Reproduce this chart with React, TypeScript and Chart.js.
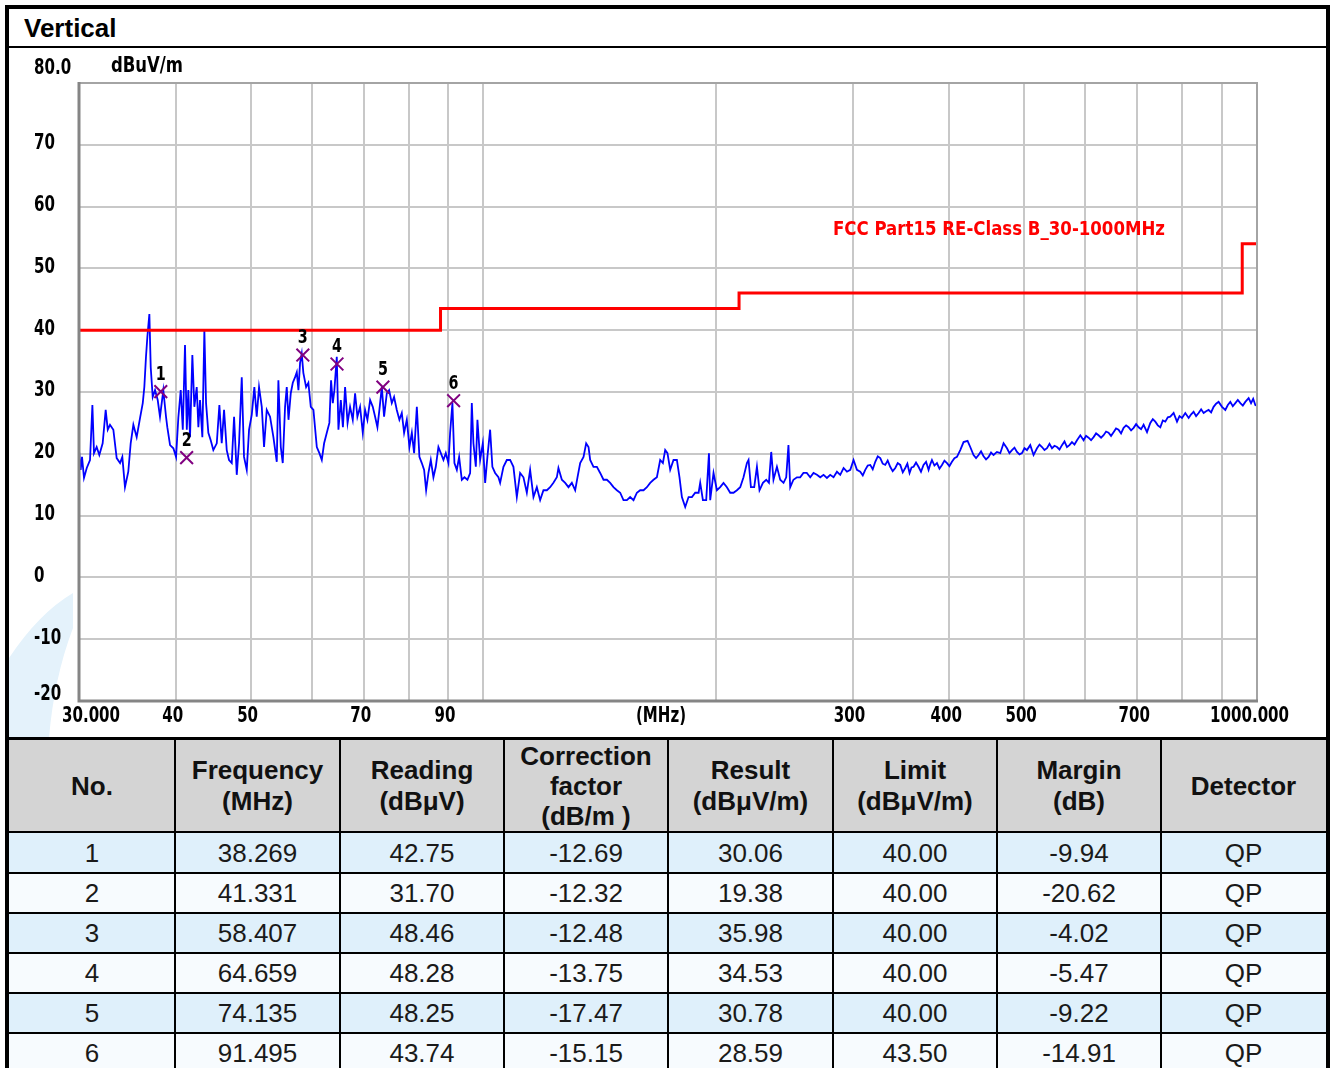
import React, { useEffect, useRef } from "react";
import { Chart, registerables } from "chart.js";

Chart.register(...registerables);

// ---------- data ----------
const traceFreqs = [
  30.0, 30.15, 30.27, 30.45, 30.7, 31.0, 31.22, 31.37, 31.62, 31.87, 32.19, 32.48, 32.68, 32.9, 33.23, 33.56,
  33.9, 34.13, 34.4, 34.74, 34.99, 35.27, 35.62, 35.98, 36.27, 36.44, 36.62, 36.77, 36.99, 37.14, 37.36, 37.62,
  37.92, 38.18, 38.56, 38.87, 39.02, 39.34, 39.73, 40.05, 40.32, 40.61, 40.86, 41.13, 41.35, 41.54, 41.75, 42.04,
  42.29, 42.59, 42.8, 43.01, 43.31, 43.57, 43.79, 44.09, 44.4, 44.75, 45.21, 45.56, 45.88, 46.2, 46.57, 46.89,
  47.27, 47.6, 47.98, 48.31, 48.7, 49.03, 49.43, 49.77, 50.17, 50.56, 50.92, 51.27, 51.69, 52.04, 52.46, 52.98,
  53.51, 54.05, 54.31, 54.7, 55.02, 55.4, 55.68, 55.97, 56.35, 56.69, 57.08, 57.37, 57.65, 57.93, 58.22, 58.5,
  58.98, 59.38, 59.81, 60.28, 60.89, 61.36, 61.8, 62.23, 62.73, 63.21, 63.53, 63.86, 64.16, 64.62, 64.94, 65.4,
  65.81, 66.24, 66.73, 67.23, 67.77, 68.24, 68.71, 69.26, 69.82, 70.3, 70.79, 71.36, 71.93, 72.43, 72.93, 73.36,
  73.89, 74.39, 75.0, 75.51, 76.12, 76.64, 77.26, 77.86, 78.42, 78.96, 79.6, 80.22, 80.8, 81.35, 82.01, 82.64,
  83.23, 83.81, 84.31, 84.89, 85.49, 86.16, 86.77, 87.45, 88.08, 88.77, 89.39, 90.1, 90.55, 91.17, 91.72, 92.38,
  93.01, 93.76, 94.5, 95.34, 96.11, 96.59, 97.06, 97.75, 98.22, 99.01, 99.81, 100.5, 101.18, 102.0, 102.69, 103.53,
  104.55, 105.08, 106.13, 107.2, 108.26, 109.33, 110.44, 111.53, 112.64, 113.78, 114.9, 116.05, 117.22, 118.38, 119.55, 120.77,
  121.95, 123.15, 124.41, 125.0, 126.28, 127.53, 128.8, 130.1, 131.39, 132.3, 133.36, 134.7, 135.76, 136.71, 137.39, 138.75,
  140.16, 141.54, 142.95, 144.39, 145.81, 147.26, 148.75, 150.23, 151.71, 153.25, 154.76, 156.31, 157.88, 159.44, 161.04, 162.66,
  164.26, 165.89, 167.57, 169.22, 170.59, 171.76, 172.93, 174.34, 176.07, 177.85, 179.24, 180.52, 182.31, 184.14, 185.98, 187.82,
  189.73, 190.63, 192.17, 194.07, 195.66, 196.39, 198.34, 200.35, 202.32, 204.33, 206.4, 208.44, 210.5, 212.64, 214.74, 216.86,
  219.07, 220.13, 221.69, 223.88, 225.7, 227.44, 229.76, 232.03, 233.9, 235.51, 237.1, 239.54, 241.9, 244.3, 246.26, 247.9,
  249.2, 251.6, 254.23, 256.7, 259.2, 261.8, 264.5, 267.1, 269.84, 272.5, 275.2, 278.0, 280.7, 283.5, 286.4, 289.2,
  292.1, 295.05, 298.0, 300.9, 303.97, 306.97, 309.3, 311.58, 313.9, 316.25, 318.6, 321.0, 323.4, 325.8, 328.2, 330.68,
  333.1, 335.6, 338.1, 340.7, 343.2, 345.8, 348.4, 350.97, 353.2, 355.5, 357.6, 359.8, 362.4, 365.1, 367.8, 370.6,
  373.4, 376.2, 378.1, 380.0, 382.8, 385.7, 388.6, 391.5, 394.4, 397.4, 400.3, 403.3, 406.3, 409.4, 413.4, 417.5,
  422.5, 425.9, 430.1, 433.3, 436.6, 439.8, 443.1, 446.4, 449.8, 453.1, 456.5, 461.1, 465.7, 470.3, 475.1, 478.6,
  482.2, 485.8, 489.45, 493.1, 496.8, 500.5, 504.2, 509.2, 514.2, 519.5, 523.4, 527.3, 531.2, 535.2, 539.2, 543.2,
  547.3, 551.4, 555.5, 559.6, 563.8, 568.0, 572.2, 576.5, 580.8, 585.2, 591.0, 596.8, 601.2, 605.7, 610.2, 614.8,
  619.4, 624.0, 628.7, 633.4, 638.1, 642.8, 647.6, 652.5, 657.3, 662.2, 667.2, 672.3, 677.3, 682.3, 687.4, 692.6,
  697.8, 703.0, 708.2, 713.5, 720.8, 727.9, 733.3, 738.8, 744.3, 749.9, 755.5, 761.1, 766.8, 772.5, 780.2, 788.1,
  794.0, 799.9, 807.8, 815.9, 822.0, 828.0, 834.2, 840.5, 846.8, 853.1, 859.4, 865.8, 872.3, 878.8, 885.4, 892.0,
  901.1, 910.0, 916.8, 923.6, 930.5, 937.5, 944.5, 951.6, 958.7, 965.8, 975.4, 982.4, 988.7, 995.0, 1000.0,
];
const traceLevels = [
  20.6, 17.4, 19.5, 16.1, 17.7, 19.0, 27.9, 20.1, 21.1, 19.8, 21.7, 27.1, 23.9, 24.7, 23.9, 19.3,
  18.5, 19.5, 14.6, 17.1, 21.7, 24.7, 22.7, 25.8, 28.2, 30.8, 35.7, 38.9, 42.6, 34.0, 29.2, 30.3,
  28.7, 26.0, 30.3, 26.0, 24.3, 21.4, 20.9, 19.5, 25.8, 30.3, 23.9, 37.6, 23.9, 30.3, 22.7, 36.0,
  27.6, 30.8, 24.3, 28.7, 22.7, 40.0, 28.2, 23.4, 22.2, 20.6, 21.7, 27.9, 21.7, 27.1, 20.6, 19.0,
  18.5, 26.0, 16.6, 21.7, 32.4, 19.5, 17.4, 23.9, 26.3, 30.8, 26.0, 30.8, 27.6, 21.1, 27.1, 26.0,
  22.7, 18.7, 31.9, 21.1, 18.5, 27.6, 30.8, 25.5, 29.8, 31.5, 32.4, 33.2, 30.3, 34.7, 36.2, 33.1,
  30.8, 31.5, 27.6, 27.1, 21.1, 20.1, 19.0, 21.7, 23.4, 25.0, 31.9, 28.2, 30.3, 35.7, 23.9, 28.7,
  24.3, 30.8, 25.0, 27.6, 25.5, 29.8, 26.0, 27.6, 23.4, 27.1, 25.5, 28.7, 27.6, 26.0, 24.3, 27.1,
  30.8, 26.0, 29.8, 30.3, 28.2, 29.2, 27.1, 25.5, 26.6, 23.4, 25.5, 21.1, 23.4, 20.1, 27.6, 19.5,
  18.5, 17.4, 14.1, 16.9, 19.0, 16.2, 17.9, 21.1, 20.1, 19.0, 20.1, 18.5, 23.4, 28.2, 18.5, 17.4,
  19.5, 15.8, 16.2, 15.8, 16.9, 28.2, 21.7, 17.9, 25.5, 19.0, 21.7, 15.3, 19.5, 23.9, 17.9, 16.9,
  16.2, 15.3, 17.9, 19.0, 19.0, 17.9, 13.0, 16.9, 16.2, 13.7, 17.4, 13.0, 14.6, 12.5, 14.1, 14.1,
  14.6, 15.3, 16.2, 17.7, 15.8, 15.3, 14.6, 15.3, 14.1, 16.2, 18.5, 19.5, 21.7, 21.1, 19.0, 17.9,
  17.9, 16.9, 15.8, 15.8, 15.3, 14.6, 14.1, 13.7, 12.5, 12.5, 13.0, 12.5, 13.7, 14.1, 14.1, 14.6,
  15.3, 15.8, 16.2, 19.0, 18.5, 20.6, 20.1, 17.4, 19.0, 19.0, 16.2, 13.0, 11.4, 13.0, 13.0, 13.7,
  13.7, 15.3, 12.5, 12.5, 20.1, 12.5, 16.9, 14.1, 14.6, 15.3, 14.6, 13.7, 13.7, 14.1, 14.6, 16.2,
  18.5, 19.0, 14.6, 14.6, 17.9, 14.1, 15.3, 15.8, 15.3, 20.3, 15.8, 17.9, 15.8, 15.3, 16.2, 21.4,
  14.6, 15.8, 16.2, 16.2, 16.9, 16.9, 16.2, 16.9, 16.6, 16.2, 16.6, 16.1, 16.6, 16.2, 17.1, 16.6,
  17.7, 17.1, 17.4, 19.0, 17.4, 17.1, 16.5, 17.4, 18.1, 18.2, 17.5, 18.7, 19.6, 19.3, 18.4, 18.2,
  18.9, 17.9, 17.2, 17.7, 18.5, 18.2, 17.0, 17.7, 18.4, 16.9, 17.8, 17.9, 18.6, 17.9, 17.1, 18.2,
  18.7, 17.4, 18.3, 19.0, 18.1, 18.5, 17.6, 18.2, 18.9, 18.5, 18.0, 18.7, 19.3, 19.5, 20.6, 21.9,
  22.1, 21.1, 19.8, 19.3, 19.8, 20.4, 19.6, 19.1, 19.5, 20.2, 19.8, 20.3, 20.1, 21.7, 20.9, 20.1,
  20.6, 21.0, 20.3, 19.9, 20.1, 20.9, 20.6, 21.4, 19.8, 20.9, 21.5, 21.1, 20.6, 20.9, 21.6, 20.9,
  21.3, 21.1, 20.7, 21.4, 22.0, 21.1, 21.4, 21.9, 21.5, 22.2, 23.0, 22.2, 22.9, 22.6, 22.2, 22.7,
  23.3, 23.0, 22.6, 23.0, 23.6, 23.4, 22.9, 23.5, 24.1, 23.9, 23.3, 24.2, 24.6, 24.3, 23.8, 24.2,
  24.8, 24.3, 24.0, 24.7, 23.5, 25.0, 25.6, 25.2, 24.6, 24.3, 25.4, 25.2, 25.9, 26.0, 26.6, 25.2,
  26.1, 25.8, 26.6, 25.8, 26.4, 26.8, 26.1, 26.6, 27.2, 26.6, 26.9, 27.1, 26.7, 27.6, 28.1, 28.4,
  27.6, 27.1, 27.9, 28.4, 27.7, 28.2, 28.7, 28.2, 27.8, 28.4, 29.0, 28.2, 28.9, 27.9, 27.8,
];

const limitName = "FCC Part15 RE-Class B_30-1000MHz";
const limitFreqs = [30, 88, 88, 214, 214, 957, 957, 1000];
const limitLevels = [40, 40, 43.5, 43.5, 46, 46, 54, 54];

const markerNos = [1, 2, 3, 4, 5, 6];
const markerFreqs = [38.269, 41.331, 58.407, 64.659, 74.135, 91.495];
const markerReadings = [42.75, 31.7, 48.46, 48.28, 48.25, 43.74];
const markerCorrections = [-12.69, -12.32, -12.48, -13.75, -17.47, -15.15];
const markerResults = [30.06, 19.38, 35.98, 34.53, 30.78, 28.59];
const markerLimits = [40.0, 40.0, 40.0, 40.0, 40.0, 43.5];
const markerMargins = [-9.94, -20.62, -4.02, -5.47, -9.22, -14.91];
const markerDetectors = ["QP", "QP", "QP", "QP", "QP", "QP"];

const xGridFreqs = [30, 40, 50, 60, 70, 80, 90, 100, 200, 300, 400, 500, 600, 700, 800, 900, 1000];
const xLabelFreqs = [30, 40, 50, 70, 90, 300, 400, 500, 700, 1000];
const xLabelTexts = ["30.000", "40", "50", "70", "90", "300", "400", "500", "700", "1000.000"];
const yTicks = [-20, -10, 0, 10, 20, 30, 40, 50, 60, 70, 80];
const yLabelTexts = ["-20", "-10", "0", "10", "20", "30", "40", "50", "60", "70", "80.0"];
const yUnit = "dBuV/m";
const xUnit = "(MHz)";
const title = "Vertical";

const headers = [
  ["No."],
  ["Frequency", "(MHz)"],
  ["Reading", "(dBμV)"],
  ["Correction", "factor", "(dB/m )"],
  ["Result", "(dBμV/m)"],
  ["Limit", "(dBμV/m)"],
  ["Margin", "(dB)"],
  ["Detector"],
];

// ---------- layout constants ----------
const CANVAS_LEFT = 9;
const CANVAS_TOP = 48;
const CANVAS_W = 1317;
const CANVAS_H = 690;
const colEdges = [9, 175, 340, 504, 668, 833, 997, 1161, 1326];
const rowEdges = [739, 832, 873, 913, 953, 993, 1033, 1073];

const AXIS_FONT = "bold 21px 'DejaVu Sans Condensed', 'DejaVu Sans', sans-serif";

function drawScaled(ctx: CanvasRenderingContext2D, text: string, x: number, y: number, align: CanvasTextAlign, sx: number) {
  ctx.save();
  ctx.translate(x, y);
  ctx.scale(sx, 1);
  ctx.textAlign = align;
  ctx.textBaseline = "middle";
  ctx.fillText(text, 0, 0);
  ctx.restore();
}

const overlayPlugin = {
  id: "overlay",
  beforeDraw(chart: any) {
    const ctx = chart.ctx as CanvasRenderingContext2D;
    ctx.save();
    ctx.fillStyle = "#e4f2fb";
    ctx.beginPath();
    ctx.moveTo(0, 690);
    ctx.lineTo(0, 610);
    ctx.quadraticCurveTo(30, 565, 64, 545);
    ctx.lineTo(64, 580);
    ctx.quadraticCurveTo(45, 630, 40, 690);
    ctx.closePath();
    ctx.fill();
    ctx.restore();
  },
  afterDraw(chart: any) {
    const ctx = chart.ctx as CanvasRenderingContext2D;
    const xs = chart.scales.x;
    const ys = chart.scales.y;
    const a = chart.chartArea;
    ctx.save();
    // frame
    ctx.strokeStyle = "#a4a4a4";
    ctx.lineWidth = 2;
    ctx.strokeRect(a.left, a.top, a.right - a.left, a.bottom - a.top);
    ctx.strokeStyle = "#858585";
    ctx.lineWidth = 3;
    ctx.beginPath();
    ctx.moveTo(a.left, a.top - 1);
    ctx.lineTo(a.left, a.bottom);
    ctx.lineTo(a.right + 1, a.bottom);
    ctx.stroke();

    ctx.font = AXIS_FONT;
    const sx = 58 / ctx.measureText("30.000").width;
    ctx.fillStyle = "#000";

    // y labels
    yTicks.forEach((v, i) => {
      const py = ys.getPixelForValue(v);
      let y = py - 1;
      if (i === 0) y = py - 6;
      if (i === yTicks.length - 1) y = py - 14;
      drawScaled(ctx, yLabelTexts[i], 25, y, "left", sx);
    });
    const su = 72 / ctx.measureText(yUnit).width;
    drawScaled(ctx, yUnit, 102, 19, "left", su);

    // x labels
    const ly = a.bottom + 16;
    xLabelFreqs.forEach((f, i) => {
      const px = xs.getPixelForValue(f);
      if (i === 0) drawScaled(ctx, xLabelTexts[i], px - 17, ly, "left", sx);
      else if (i === xLabelFreqs.length - 1) drawScaled(ctx, xLabelTexts[i], px + 32, ly, "right", sx);
      else drawScaled(ctx, xLabelTexts[i], px - 3, ly, "center", sx);
    });
    drawScaled(ctx, xUnit, (a.left + a.right) / 2 - 7, ly, "center", sx);

    // limit name
    ctx.font = "bold 20px 'DejaVu Sans Condensed', 'DejaVu Sans', sans-serif";
    const sl = 332 / ctx.measureText(limitName).width;
    ctx.fillStyle = "#ff0000";
    drawScaled(ctx, limitName, 824, 182, "left", sl);

    // marker numbers
    ctx.font = "bold 20px 'DejaVu Sans Condensed', 'DejaVu Sans', sans-serif";
    ctx.fillStyle = "#000";
    markerNos.forEach((n, i) => {
      const px = xs.getPixelForValue(markerFreqs[i]);
      const py = ys.getPixelForValue(markerResults[i]);
      drawScaled(ctx, String(n), px, py - 17, "center", sx);
    });
    ctx.restore();
  },
};

function ChartBox() {
  const ref = useRef<HTMLCanvasElement | null>(null);
  useEffect(() => {
    if (!ref.current) return;
    const gridOpts = { color: "#c8c8c8", lineWidth: 2, drawTicks: false };
    const chart = new Chart(ref.current, {
      type: "line",
      data: {
        datasets: [
          {
            label: "markers",
            data: markerFreqs.map((f, i) => ({ x: f, y: markerResults[i] })),
            showLine: false,
            pointStyle: "crossRot",
            pointRadius: 9,
            pointBorderWidth: 2,
            borderColor: "#800080",
            backgroundColor: "#800080",
            order: 0,
          },
          {
            label: "limit",
            data: limitFreqs.map((f, i) => ({ x: f, y: limitLevels[i] })),
            borderColor: "#ff0000",
            borderWidth: 3,
            pointRadius: 0,
            tension: 0,
            order: 1,
          },
          {
            label: "trace",
            data: traceFreqs.map((f, i) => ({ x: f, y: traceLevels[i] })),
            borderColor: "#0000ff",
            borderWidth: 1.8,
            pointRadius: 0,
            tension: 0,
            order: 2,
          },
        ],
      },
      options: {
        responsive: false,
        animation: false,
        devicePixelRatio: 1,
        events: [],
        layout: { padding: { left: 70, right: 69, top: 35, bottom: 37 } },
        plugins: { legend: { display: false }, tooltip: { enabled: false } },
        scales: {
          x: {
            type: "logarithmic",
            min: 30,
            max: 1000,
            afterBuildTicks: (s: any) => {
              s.ticks = xGridFreqs.map((v) => ({ value: v }));
            },
            afterFit: (s: any) => {
              s.height = 0;
            },
            ticks: { display: false },
            grid: gridOpts,
            border: { display: false },
          },
          y: {
            type: "linear",
            min: -20,
            max: 80,
            afterBuildTicks: (s: any) => {
              s.ticks = yTicks.map((v) => ({ value: v }));
            },
            afterFit: (s: any) => {
              s.width = 0;
            },
            ticks: { display: false },
            grid: gridOpts,
            border: { display: false },
          },
        },
      } as any,
      plugins: [overlayPlugin],
    });
    return () => chart.destroy();
  }, []);
  return (
    <canvas
      ref={ref}
      width={CANVAS_W}
      height={CANVAS_H}
      style={{ position: "absolute", left: CANVAS_LEFT, top: CANVAS_TOP, width: CANVAS_W, height: CANVAS_H }}
    />
  );
}

export default function App() {
  const rows = markerNos.map((n, i) => [
    String(n),
    markerFreqs[i].toFixed(3),
    markerReadings[i].toFixed(2),
    markerCorrections[i].toFixed(2),
    markerResults[i].toFixed(2),
    markerLimits[i].toFixed(2),
    markerMargins[i].toFixed(2),
    markerDetectors[i],
  ]);
  const cells: React.ReactNode[] = [];
  const font = "'Liberation Sans', Arial, sans-serif";
  headers.forEach((lines, c) => {
    cells.push(
      <div
        key={`h${c}`}
        style={{
          position: "absolute",
          left: colEdges[c],
          top: rowEdges[0],
          width: colEdges[c + 1] - colEdges[c],
          height: rowEdges[1] - rowEdges[0],
          background: "#d4d4d4",
          display: "flex",
          flexDirection: "column",
          alignItems: "center",
          justifyContent: "center",
          fontFamily: font,
          fontWeight: "bold",
          fontSize: 26,
          lineHeight: lines.length > 2 ? "30px" : "31px",
          color: "#111",
          paddingTop: 1,
          boxSizing: "border-box",
        }}
      >
        {lines.map((l, k) => (
          <div key={k}>{l}</div>
        ))}
      </div>
    );
  });
  rows.forEach((row, r) => {
    row.forEach((txt, c) => {
      cells.push(
        <div
          key={`c${r}-${c}`}
          style={{
            position: "absolute",
            left: colEdges[c],
            top: rowEdges[r + 1],
            width: colEdges[c + 1] - colEdges[c],
            height: rowEdges[r + 2] - rowEdges[r + 1],
            background: r % 2 === 0 ? "#dff0fb" : "#f7fbfe",
            display: "flex",
            alignItems: "center",
            justifyContent: "center",
            fontFamily: font,
            fontSize: 26,
            color: "#1a1a1a",
            paddingTop: 1,
            boxSizing: "border-box",
          }}
        >
          {txt}
        </div>
      );
    });
  });
  const lines: React.ReactNode[] = [];
  colEdges.slice(1, -1).forEach((x, i) => {
    lines.push(
      <div key={`v${i}`} style={{ position: "absolute", left: x - 1, top: rowEdges[0], width: 2, height: rowEdges[rowEdges.length - 1] - rowEdges[0], background: "#000" }} />
    );
  });
  rowEdges.forEach((y, i) => {
    lines.push(
      <div key={`hl${i}`} style={{ position: "absolute", left: 9, top: i === 0 ? y - 2 : y - 1, width: 1317, height: i === 0 ? 3 : 2, background: "#000" }} />
    );
  });

  return (
    <div style={{ position: "absolute", left: 0, top: 0, width: 1330, height: 1068, overflow: "hidden" }}>
      <div
        style={{
          position: "absolute",
          left: 5,
          top: 5,
          width: 1325,
          height: 1080,
          border: "4px solid #000",
          boxSizing: "border-box",
          background: "#fff",
        }}
      />
      <div
        style={{
          position: "absolute",
          left: 24,
          top: 13,
          fontFamily: "'Liberation Sans', Arial, sans-serif",
          fontWeight: "bold",
          fontSize: 26,
          lineHeight: "30px",
          color: "#000",
        }}
      >
        {title}
      </div>
      <div style={{ position: "absolute", left: 9, top: 46, width: 1317, height: 2, background: "#000" }} />
      <ChartBox />
      {cells}
      {lines}
    </div>
  );
}
